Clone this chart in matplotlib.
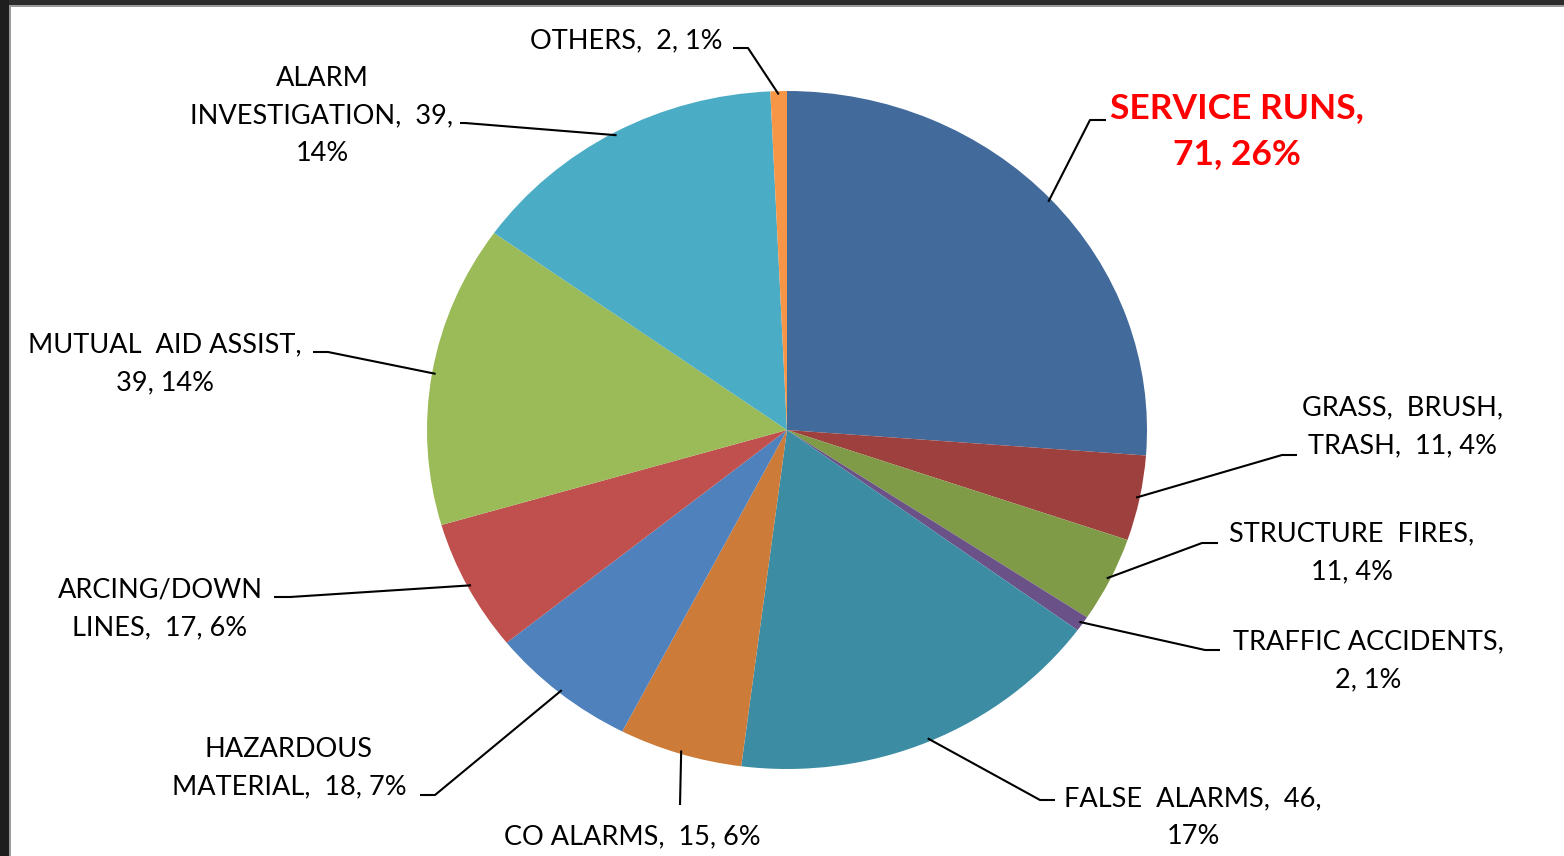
import numpy as np
import matplotlib
matplotlib.use("Agg")
import matplotlib.pyplot as plt
from matplotlib.patches import Rectangle

# data, clockwise from 12 o'clock
categories = ["SERVICE RUNS", "GRASS, BRUSH, TRASH", "STRUCTURE FIRES",
              "TRAFFIC ACCIDENTS", "FALSE ALARMS", "CO ALARMS",
              "HAZARDOUS MATERIAL", "ARCING/DOWN LINES", "MUTUAL AID ASSIST",
              "ALARM INVESTIGATION", "OTHERS"]
counts = [71, 11, 11, 2, 46, 15, 18, 17, 39, 39, 2]
percents = [26, 4, 4, 1, 17, 6, 7, 6, 14, 14, 1]
slice_colors = ["#426A9B", "#9E413E", "#809B48", "#6A5288", "#3C8DA3", "#CC7B38",
                "#4F81BD", "#C0504D", "#9BBB59", "#4BACC6", "#F79646"]

# label text as broken in the chart
label_texts = [
    "SERVICE RUNS,\n71, 26%",
    "GRASS,  BRUSH,\nTRASH,  11, 4%",
    "STRUCTURE  FIRES,\n11, 4%",
    "TRAFFIC ACCIDENTS,\n2, 1%",
    "FALSE  ALARMS,  46,\n17%",
    "CO ALARMS,  15, 6%",
    "HAZARDOUS\nMATERIAL,  18, 7%",
    "ARCING/DOWN\nLINES,  17, 6%",
    "MUTUAL  AID ASSIST,\n39, 14%",
    "ALARM\nINVESTIGATION,  39,\n14%",
    "OTHERS,  2, 1%",
]

# layout in pixels: label centre, elbow of leader, end of leader
label_pos = [(1237, 131), (1403, 427), (1352, 553), (1368, 661), (1193, 818),
             (632, 837), (289, 768), (160, 609), (165, 364), (322, 116), (626, 41)]
elbow_pos = [(1090, 120), (1282, 455), (1202, 543), (1205, 650), (1040, 800),
             (680, 805), (435, 795), (290, 597), (328, 352), (465, 123), (748, 48)]
end_pos = [(1106, 120), (1297, 455), (1218, 543), (1220, 650), (1055, 800),
           (680, 805), (420, 795), (274, 597), (313, 352), (460, 123), (733, 48)]

W, H = 1564, 856
CX, CY, RX, RY = 787, 430, 360, 339


def px(x, y):
    return (x - CX) / RX, (CY - y) / RY


plt.rcParams['font.family'] = ['Lato', 'DejaVu Sans']

fig = plt.figure(figsize=(W / 100, H / 100), dpi=100, facecolor="white")
ax = fig.add_axes([0, 0, 1, 1])
wedges, _ = ax.pie(counts, colors=slice_colors, startangle=90, counterclock=False,
                   radius=1, center=(0, 0), wedgeprops=dict(linewidth=0))
ax.set_aspect('auto')
ax.set_xlim(-CX / RX, (W - CX) / RX)
ax.set_ylim((CY - H) / RY, CY / RY)
ax.axis('off')

for i, w in enumerate(wedges):
    mid = np.deg2rad((w.theta1 + w.theta2) / 2)
    start = (0.99 * np.cos(mid), 0.99 * np.sin(mid))
    ex, ey = px(*elbow_pos[i])
    fx, fy = px(*end_pos[i])
    ax.plot([start[0], ex, fx], [start[1], ey, fy], color="black", lw=1.5,
            solid_capstyle="butt")
    tx, ty = px(*label_pos[i])
    if i == 0:
        ax.text(tx, ty, label_texts[i], ha="center", va="center", color="#FF0000",
                fontsize=25.5, fontweight="bold", linespacing=1.56)
    else:
        ax.text(tx, ty, label_texts[i], ha="center", va="center", color="black",
                fontsize=19.5, linespacing=1.62)

# dark frame at top and left
fig.add_artist(Rectangle((0, 1 - 6 / H), 1, 6 / H, transform=fig.transFigure,
                         facecolor="#2B2B2B", edgecolor="none"))
fig.add_artist(Rectangle((0, 1 - 7 / H), 1, 1.5 / H, transform=fig.transFigure,
                         facecolor="#9A9A9A", edgecolor="none"))
fig.add_artist(Rectangle((0, 0), 9 / W, 1, transform=fig.transFigure,
                         facecolor="#1E1E1E", edgecolor="none"))
fig.add_artist(Rectangle((9 / W, 0), 2 / W, 1 - 6 / H, transform=fig.transFigure,
                         facecolor="#9A9A9A", edgecolor="none"))

fig.savefig("out.png", dpi=100, facecolor="white")
